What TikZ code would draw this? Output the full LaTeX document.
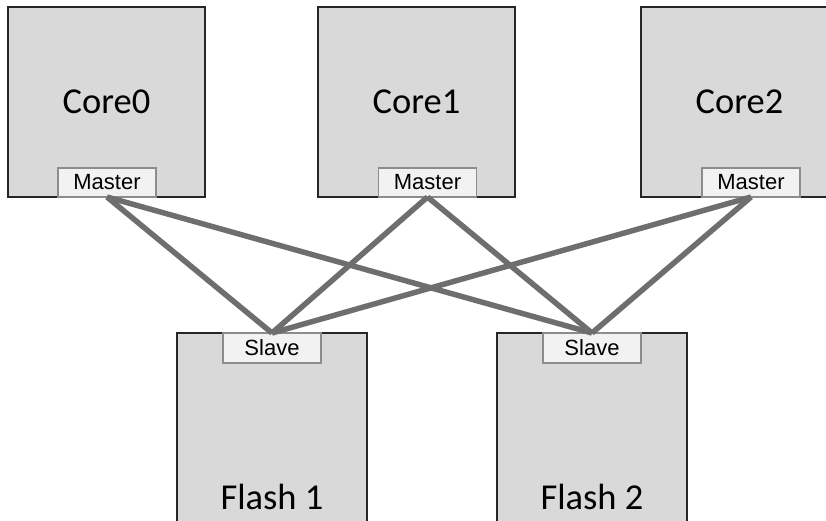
\documentclass[tikz,border=0pt]{standalone}
\usepackage{fontspec}
\setmainfont{Carlito}
\newfontfamily\labelfont{Liberation Sans}
\definecolor{boxfill}{HTML}{D9D9D9}
\definecolor{portfill}{HTML}{F2F2F2}
\definecolor{portedge}{HTML}{8C8C8C}
\definecolor{busline}{HTML}{6E6E6E}
\begin{document}
\begin{tikzpicture}[x=1pt,y=-1pt,
  unit/.style={draw=black!85, line width=1.5pt, fill=boxfill, inner sep=0pt, outer sep=0pt,
    font=\fontsize{36.5}{40}\selectfont},
  port/.style={draw=portedge, line width=1.2pt, fill=portfill, inner sep=0pt, outer sep=0pt,
    minimum width=98pt, minimum height=29pt, font=\labelfont\fontsize{22}{24}\selectfont},
  bus/.style={draw=busline, line width=5.5pt}]
\useasboundingbox (0,0) rectangle (826,520);
\clip (0,0) rectangle (826,520);

% processor cores
\node[unit, minimum width=197pt, minimum height=190pt] (core0) at (106.5,102) {Core0};
\node[unit, minimum width=197pt, minimum height=190pt] (core1) at (416.5,102) {Core1};
\node[unit, minimum width=197pt, minimum height=190pt] (core2) at (739.5,102) {Core2};

% flash banks (run past the lower edge)
\node[unit, minimum width=190pt, minimum height=220pt] (flash1) at (272,443) {};
\node[unit, minimum width=190pt, minimum height=220pt] (flash2) at (592,443) {};
\node[font=\fontsize{36.5}{40}\selectfont] (f1text) at (272,497) {Flash 1};
\node[font=\fontsize{36.5}{40}\selectfont] (f2text) at (592,497) {Flash 2};

% bus ports
\node[port] (m0) at (107,182.5) {Master};
\node[port] (m1) at (427.5,182.5) {Master};
\node[port] (m2) at (751,182.5) {Master};
\node[port, minimum height=30pt] (s1) at (272,348) {Slave};
\node[port, minimum height=30pt] (s2) at (592,348) {Slave};

% crossbar connections
\foreach \m in {m0,m1,m2}
  \foreach \s in {s1,s2}
    \draw[bus] (\m.south) -- (\s.north);
\end{tikzpicture}
\end{document}
